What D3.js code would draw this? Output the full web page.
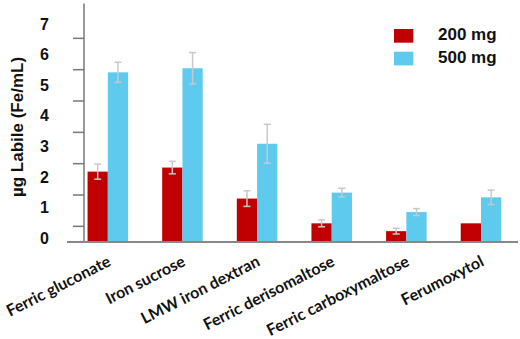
<!DOCTYPE html>
<html lang="en">
<head>
    <meta charset="UTF-8">
    <title>Labile iron</title>
    <script src="https://d3js.org/d3.v7.min.js"></script>
    <style>
        body { margin: 0; background: #fff; }
        text { font-family: "Liberation Sans", Arial, sans-serif; font-weight: bold; fill: #111; }
        .xlab { font-family: Lato, "Liberation Sans", sans-serif; font-weight: 700; }
    </style>
</head>
<body>
    <div id="chart"></div>
    <script>
        // data
        var categories = ["Ferric gluconate", "Iron sucrose", "LMW iron dextran",
                          "Ferric derisomaltose", "Ferric carboxymaltose", "Ferumoxytol"];
        var seriesNames = ["200 mg", "500 mg"];
        var values200 = [2.23, 2.36, 1.37, 0.58, 0.33, 0.58];
        var values500 = [5.40, 5.53, 3.12, 1.56, 0.94, 1.41];
        var err200 = [0.24, 0.20, 0.25, 0.11, 0.09, null];
        var err500 = [0.32, 0.50, 0.62, 0.14, 0.11, 0.23];
        var tickLabels = [0, 1, 2, 3, 4, 5, 6, 7];
        var tickMarks = [0.5, 1.5, 2.5, 3.5, 4.5, 5.5, 6.5];
        var colors = ["#c00000", "#5ecbee"];

        var width = 520, height = 339;
        var svg = d3.select("#chart").append("svg")
            .attr("width", width).attr("height", height);

        var x0 = d3.scaleBand().domain(categories).range([70.5, 518.3])
            .paddingInner(0.457).paddingOuter(0.2285);
        var x1 = d3.scaleBand().domain(seriesNames).range([0, x0.bandwidth()]);
        var y = d3.scaleLinear().domain([0, 7.6]).range([241.5, 3.4]);
        // the labels in the original sit slightly off the tick marks
        var yLabel = d3.scaleLinear().domain([0, 7]).range([238, 24]);
        var color = d3.scaleOrdinal().domain(seriesNames).range(colors);

        var rows = categories.map(function(c, i) {
            return { cat: c, bars: [
                { s: seriesNames[0], v: values200[i], e: err200[i] },
                { s: seriesNames[1], v: values500[i], e: err500[i] }
            ]};
        });

        // bars
        var groups = svg.selectAll(".grp").data(rows).enter().append("g")
            .attr("class", "grp")
            .attr("transform", function(d) { return "translate(" + x0(d.cat) + ",0)"; });

        groups.selectAll("rect").data(function(d) { return d.bars; }).enter().append("rect")
            .attr("x", function(d) { return x1(d.s); })
            .attr("width", x1.bandwidth())
            .attr("y", function(d) { return y(d.v); })
            .attr("height", function(d) { return y(0) - y(d.v); })
            .attr("fill", function(d) { return color(d.s); });

        // error bars
        var eb = groups.selectAll(".err").data(function(d) { return d.bars.filter(function(b) { return b.e != null; }); })
            .enter().append("g").attr("class", "err")
            .attr("stroke", "#c8c8c8").attr("stroke-width", 1.5);
        eb.append("line")
            .attr("x1", function(d) { return x1(d.s) + x1.bandwidth() / 2; })
            .attr("x2", function(d) { return x1(d.s) + x1.bandwidth() / 2; })
            .attr("y1", function(d) { return y(d.v + d.e); })
            .attr("y2", function(d) { return y(d.v - d.e); });
        [1, -1].forEach(function(sign) {
            eb.append("line")
                .attr("x1", function(d) { return x1(d.s) + x1.bandwidth() / 2 - 3.5; })
                .attr("x2", function(d) { return x1(d.s) + x1.bandwidth() / 2 + 3.5; })
                .attr("y1", function(d) { return y(d.v + sign * d.e); })
                .attr("y2", function(d) { return y(d.v + sign * d.e); });
        });

        // y axis
        var yAxis = svg.append("g").attr("transform", "translate(84,0)")
            .call(d3.axisLeft(y).tickValues(tickMarks).tickSize(11).tickFormat(""));
        yAxis.select(".domain").attr("d", "M0," + y(7.6) + "V" + y(0))
            .attr("stroke", "#777").attr("stroke-width", 1.5);
        yAxis.selectAll(".tick line").attr("stroke", "#777").attr("stroke-width", 1.5);

        svg.append("g").selectAll("text").data(tickLabels).enter().append("text")
            .attr("x", 49).attr("y", function(d) { return yLabel(d); })
            .attr("dy", "0.36em").attr("text-anchor", "end")
            .style("font-size", "16px").text(function(d) { return d; });

        // x axis
        var xAxis = svg.append("g").attr("transform", "translate(0," + y(0) + ")")
            .call(d3.axisBottom(x0).tickSize(0).tickFormat(""));
        xAxis.select(".domain").attr("d", "M67,0.5H518")
            .attr("stroke", "#888").attr("stroke-width", 2);

        svg.append("g").selectAll("text").data(categories).enter().append("text")
            .attr("class", "xlab")
            .attr("text-anchor", "end")
            .attr("transform", function(d) {
                return "translate(" + (x0(d) + x0.bandwidth() / 2 + 4) + ",265) rotate(-27)";
            })
            .style("font-size", "16px").text(function(d) { return d; });

        // y title
        svg.append("text")
            .attr("transform", "translate(23,127) rotate(-90)")
            .attr("text-anchor", "middle")
            .style("font-size", "17px").text("µg Labile (Fe/mL)");

        // legend
        var legend = svg.append("g").selectAll("g").data(seriesNames).enter().append("g")
            .attr("transform", function(d, i) { return "translate(394," + (29 + i * 22.7) + ")"; });
        legend.append("rect").attr("width", 19.3).attr("height", 13.7)
            .attr("fill", function(d) { return color(d); });
        legend.append("text").attr("x", 44).attr("y", 11)
            .style("font-size", "17px").text(function(d) { return d; });
    </script>
</body>
</html>
